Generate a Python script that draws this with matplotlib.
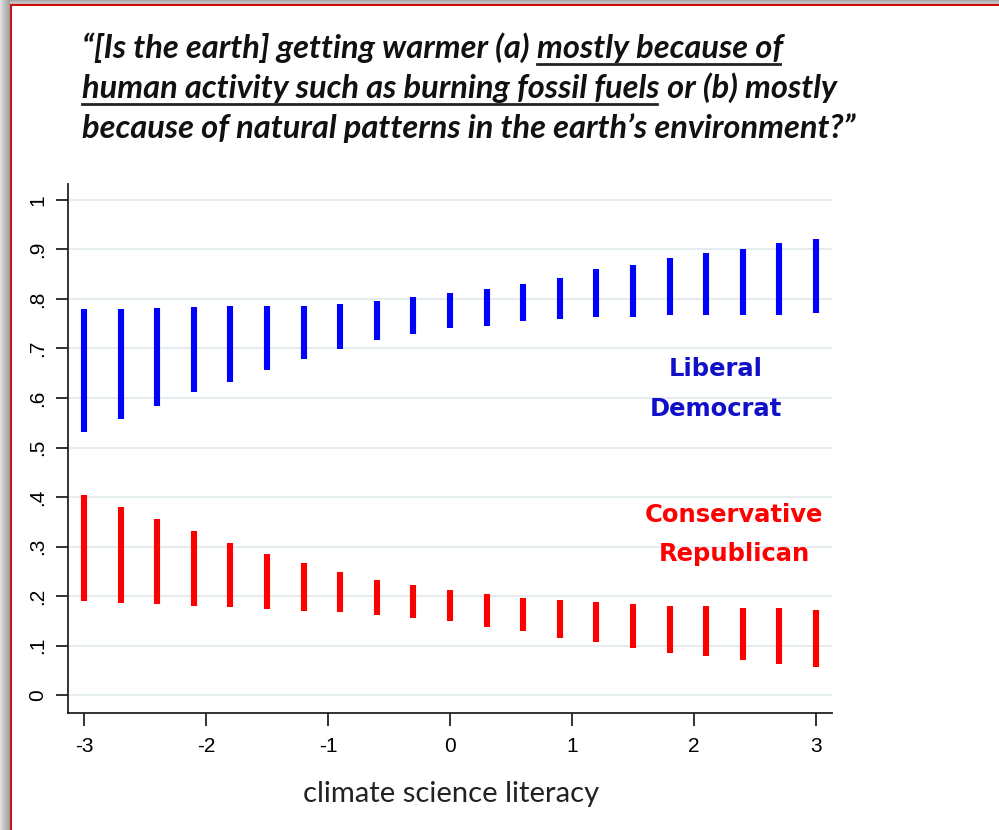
import matplotlib
matplotlib.use("Agg")
import matplotlib.pyplot as plt
from matplotlib.patches import Rectangle
from matplotlib.lines import Line2D

# Climate science literacy levels (standardized)
literacy = [-3.0, -2.7, -2.4, -2.1, -1.8, -1.5, -1.2, -0.9, -0.6, -0.3, 0.0,
            0.3, 0.6, 0.9, 1.2, 1.5, 1.8, 2.1, 2.4, 2.7, 3.0]

# Predicted probability of "human activity" answer: 95% interval bounds
lib_dem_hi = [0.780, 0.780, 0.782, 0.784, 0.785, 0.785, 0.786, 0.790, 0.795, 0.803, 0.812,
              0.821, 0.831, 0.842, 0.860, 0.869, 0.883, 0.893, 0.901, 0.913, 0.921]
lib_dem_lo = [0.532, 0.558, 0.584, 0.612, 0.633, 0.657, 0.679, 0.699, 0.718, 0.730, 0.742,
              0.746, 0.755, 0.760, 0.763, 0.763, 0.767, 0.768, 0.767, 0.767, 0.771]
con_rep_hi = [0.405, 0.379, 0.355, 0.331, 0.307, 0.286, 0.266, 0.249, 0.232, 0.223, 0.213,
              0.205, 0.197, 0.193, 0.188, 0.184, 0.180, 0.180, 0.176, 0.176, 0.171]
con_rep_lo = [0.190, 0.187, 0.185, 0.181, 0.178, 0.173, 0.170, 0.168, 0.162, 0.156, 0.149,
              0.137, 0.129, 0.116, 0.108, 0.095, 0.086, 0.079, 0.071, 0.062, 0.057]

x_ticks = [-3, -2, -1, 0, 1, 2, 3]
x_tick_labels = ["-3", "-2", "-1", "0", "1", "2", "3"]
y_ticks = [0, 0.1, 0.2, 0.3, 0.4, 0.5, 0.6, 0.7, 0.8, 0.9, 1.0]
y_tick_labels = ["0", ".1", ".2", ".3", ".4", ".5", ".6", ".7", ".8", ".9", "1"]

title_lines = [
    ("\u201c[Is the earth] getting warmer (a) ", "mostly because of", ""),
    ("", "human activity such as burning fossil fuels", " or (b) mostly"),
    ("because of natural patterns in the earth\u2019s environment?\u201d", "", ""),
]

W, H = 999, 830
fig = plt.figure(figsize=(W / 100, H / 100), dpi=100)
fig.patch.set_facecolor("white")

# window-style frame: grey shading with a red edge on top and left
shade_top = ["#a8a8a8", "#b8b8b8", "#c4c4c4", "#bcbcbc"]
for i, c in enumerate(shade_top):
    fig.add_artist(Rectangle((0, 1 - (i + 1) / H), 1, 1 / H, transform=fig.transFigure,
                             facecolor=c, edgecolor="none"))
shade_left = ["#e0e0e0", "#d6d6d6", "#cdcdcd", "#c6c6c6", "#c0c0c0",
              "#bababa", "#b4b4b4", "#adadad", "#a6a6a6", "#9e9e9e"]
for i, c in enumerate(shade_left):
    fig.add_artist(Rectangle((i / W, 0), 1 / W, 1, transform=fig.transFigure,
                             facecolor=c, edgecolor="none"))
fig.add_artist(Rectangle((10 / W, 1 - 6 / H), 1 - 10 / W, 2 / H, transform=fig.transFigure,
                         facecolor="#cc1010", edgecolor="none"))
fig.add_artist(Rectangle((10 / W, 0), 2 / W, 1 - 4 / H, transform=fig.transFigure,
                         facecolor="#cc1010", edgecolor="none"))

# plot area
ax = fig.add_axes([68 / W, 1 - 713 / H, (832 - 68) / W, (713 - 184) / H])
ax.set_xlim(-3.131, 3.131)
ax.set_ylim(-0.036, 1.032)
ax.set_axisbelow(True)
ax.yaxis.grid(True, color="#e3ebee", lw=1.3)
ax.xaxis.grid(False)
for s in ("top", "right"):
    ax.spines[s].set_visible(False)
for s in ("left", "bottom"):
    ax.spines[s].set_linewidth(1.3)
    ax.spines[s].set_color("#222222")

ax.set_xticks(x_ticks)
ax.set_xticklabels(x_tick_labels, fontsize=15, family="Liberation Sans")
ax.set_yticks(y_ticks)
ax.set_yticklabels(y_tick_labels, fontsize=15, family="Liberation Sans",
                   rotation=90, va="center")
ax.tick_params(direction="out", length=9, width=1.3, color="#222222")
ax.tick_params(axis="x", pad=8)
ax.tick_params(axis="y", pad=6)

blue_bars = ax.vlines(literacy, lib_dem_lo, lib_dem_hi, color="#0000ff", lw=4.4)
red_bars = ax.vlines(literacy, con_rep_lo, con_rep_hi, color="#ff0000", lw=4.4)

ax.text(2.18, 0.618, "Liberal\nDemocrat", color="#1010c8", fontsize=17.5,
        fontweight="bold", family="DejaVu Sans", ha="center", va="center",
        linespacing=1.8)
ax.text(2.33, 0.325, "Conservative\nRepublican", color="#ff0000", fontsize=17.5,
        fontweight="bold", family="DejaVu Sans", ha="center", va="center",
        linespacing=1.8)

fig.text(451 / W, 1 - 794 / H, "climate science literacy", fontsize=21,
         family="Lato", ha="center", va="center", color="#222222")

# question text, with the "human activity" option underlined
fig.canvas.draw()
renderer = fig.canvas.get_renderer()
title_kw = dict(fontsize=23.5, family="Lato", style="italic", fontweight="bold",
                color="#111111", va="baseline", ha="left")
baselines = [58, 98, 138]
x0 = 82
for (pre, under, post), yb in zip(title_lines, baselines):
    x = x0
    y = 1 - yb / H
    for part, ul in ((pre, False), (under, True), (post, False)):
        if not part:
            continue
        t = fig.text(x / W, y, part, **title_kw)
        bb = t.get_window_extent(renderer)
        if ul:
            fig.add_artist(Line2D([bb.x0 / W, (bb.x1 - 3) / W], [(H - yb - 6) / H] * 2,
                                  transform=fig.transFigure, color="#222222", lw=2.0))
        x = bb.x1

fig.savefig("out.png", dpi=100, facecolor=fig.get_facecolor())
